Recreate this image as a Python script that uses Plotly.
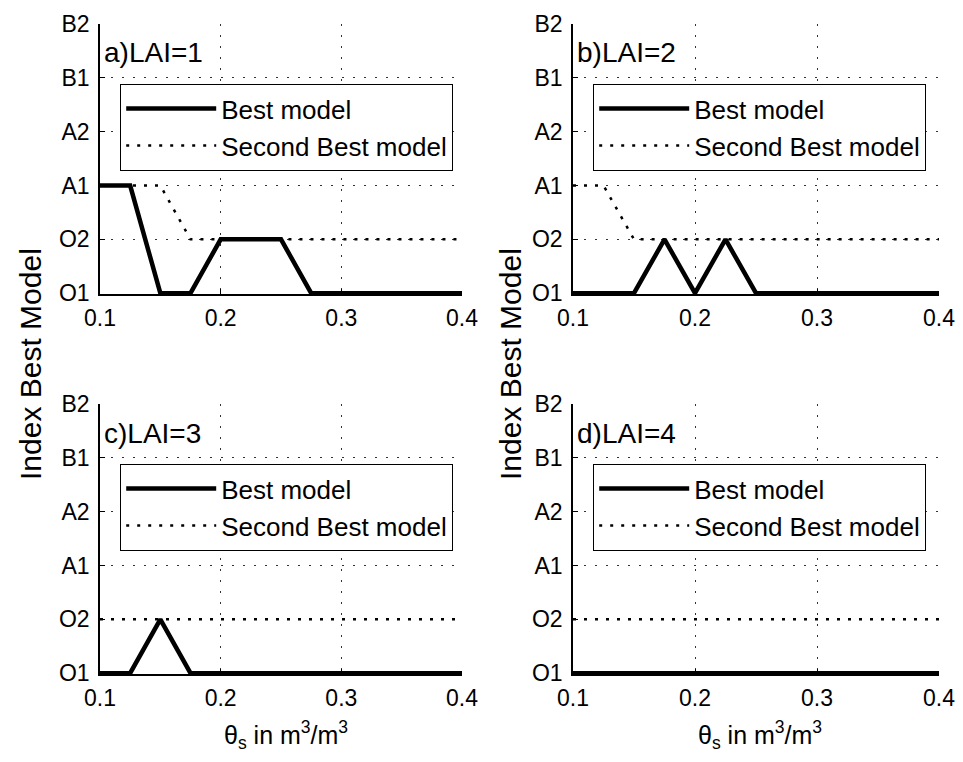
import plotly.graph_objects as go

W, H = 963, 762

# soil moisture grid (m3/m3)
theta = [0.1, 0.125, 0.15, 0.175, 0.2, 0.225, 0.25, 0.275, 0.3, 0.325, 0.35, 0.375, 0.4]

# model index positions on the y axis: O1, O2, A1, A2, B1, B2
model_ticks = [1, 2, 3, 4, 5, 6]
model_labels = ["O1", "O2", "A1", "A2", "B1", "B2"]

best_lai1 = [3, 3, 1, 1, 2, 2, 2, 1, 1, 1, 1, 1, 1]
second_lai1 = [3, 3, 3, 2, 2, 2, 2, 2, 2, 2, 2, 2, 2]
best_lai2 = [1, 1, 1, 2, 1, 2, 1, 1, 1, 1, 1, 1, 1]
second_lai2 = [3, 3, 2, 2, 2, 2, 2, 2, 2, 2, 2, 2, 2]
best_lai3 = [1, 1, 2, 1, 1, 1, 1, 1, 1, 1, 1, 1, 1]
second_lai3 = [2, 2, 2, 2, 2, 2, 2, 2, 2, 2, 2, 2, 2]
best_lai4 = [1, 1, 1, 1, 1, 1, 1, 1, 1, 1, 1, 1, 1]
second_lai4 = [2, 2, 2, 2, 2, 2, 2, 2, 2, 2, 2, 2, 2]

panel_titles = ["a)LAI=1", "b)LAI=2", "c)LAI=3", "d)LAI=4"]
x_ticks = [0.1, 0.2, 0.3, 0.4]
x_ticklabels = ["0.1", "0.2", "0.3", "0.4"]

FONT = "Liberation Sans, Arial, sans-serif"


def px_x(p):
    return p / W


def px_y(p):
    return 1 - p / H


# panel boxes in pixels: (left, right, top, bottom)
boxes = [(100, 462, 24, 294), (573, 939, 24, 294),
         (100, 462, 404, 674), (573, 939, 404, 674)]

series = [(best_lai1, second_lai1), (best_lai2, second_lai2),
          (best_lai3, second_lai3), (best_lai4, second_lai4)]

fig = go.Figure()
layout = dict(
    width=W, height=H,
    margin=dict(l=0, r=0, t=0, b=0, pad=0, autoexpand=False),
    paper_bgcolor="white", plot_bgcolor="white",
    font=dict(family=FONT, size=20, color="black"),
    annotations=[], showlegend=True,
)

for i, ((l, r, t, b), (best, second)) in enumerate(zip(boxes, series)):
    k = i + 1
    xa = "x" if k == 1 else f"x{k}"
    ya = "y" if k == 1 else f"y{k}"
    lg = "legend" if k == 1 else f"legend{k}"

    fig.add_trace(go.Scatter(
        x=theta, y=best, xaxis=xa, yaxis=ya, mode="lines", name="Best model",
        line=dict(color="black", width=4.5), legend=lg, legendgroup=f"b{k}",
    ))
    fig.add_trace(go.Scatter(
        x=theta, y=second, xaxis=xa, yaxis=ya, mode="lines",
        name="Second Best model",
        line=dict(color="black", width=2.5, dash="3px,8px"),
        legend=lg, legendgroup=f"s{k}",
    ))

    axis_common = dict(
        showline=True, linecolor="black", linewidth=1.5,
        ticks="inside", ticklen=5, tickcolor="black",
        showgrid=True, gridcolor="#333", gridwidth=1.2, griddash="2px,9px",
        zeroline=False, tickfont=dict(family=FONT, size=23),
        automargin=False,
    )
    layout["xaxis" if k == 1 else f"xaxis{k}"] = dict(
        axis_common, domain=[px_x(l), px_x(r)], range=[0.1, 0.4],
        anchor=ya, tickvals=x_ticks, ticktext=x_ticklabels,
        ticklabelstandoff=3,
    )
    layout["yaxis" if k == 1 else f"yaxis{k}"] = dict(
        axis_common, domain=[px_y(b), px_y(t)], range=[0.985, 6],
        anchor=xa, tickvals=model_ticks, ticktext=model_labels,
        ticklabelstandoff=4,
    )
    layout[lg] = dict(
        x=px_x(l + 20), y=px_y(t + 60), xanchor="left", yanchor="top",
        bgcolor="white", bordercolor="black", borderwidth=1.2,
        font=dict(family=FONT, size=26), itemwidth=90, tracegroupgap=0,
    )
    layout["annotations"].append(dict(
        text=panel_titles[i], xref="paper", yref="paper",
        x=px_x(l + 2), y=px_y(t + 29), xanchor="left", yanchor="middle",
        showarrow=False, font=dict(family=FONT, size=28),
    ))

# shared axis titles
for cx in (30, 510):
    layout["annotations"].append(dict(
        text="Index Best Model", xref="paper", yref="paper",
        x=px_x(cx), y=px_y(364), textangle=-90, showarrow=False,
        xanchor="center", yanchor="middle", font=dict(family=FONT, size=30),
    ))
for cx in (286, 760):
    layout["annotations"].append(dict(
        text="θ<sub>s</sub> in m<sup>3</sup>/m<sup>3</sup>", xref="paper",
        yref="paper", x=px_x(cx), y=px_y(735), showarrow=False,
        xanchor="center", yanchor="middle", font=dict(family=FONT, size=25),
    ))

fig.update_layout(**layout)
fig.write_html("out.html")
